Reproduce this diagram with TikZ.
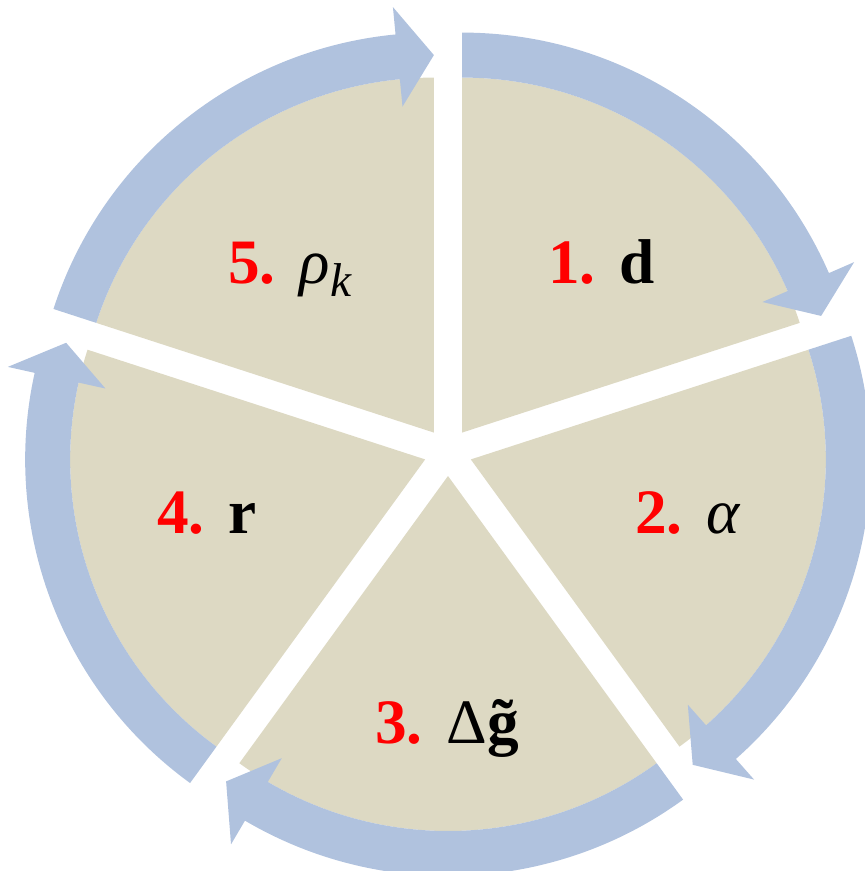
\documentclass[tikz,border=0pt]{standalone}
\usepackage{fontspec}
\setmainfont{Liberation Serif}
\definecolor{cyclebeige}{RGB}{221,217,195}
\definecolor{cycleblue}{RGB}{176,194,222}
\definecolor{cyclered}{RGB}{255,0,0}
\usetikzlibrary{positioning}

\begin{document}
\begin{tikzpicture}[
    wedge/.style={fill=cyclebeige},
    cyclearrow/.style={fill=cycleblue},
    steplabel/.style={anchor=base west,inner sep=0pt,font=\fontsize{36}{40}\selectfont}]
  \useasboundingbox (-89.6mm,-83.8mm) rectangle (83.4mm,90.4mm);
  % 1: top right
  \begin{scope}[shift={(54:4.8mm)}]
    \fill[wedge] (0,0) -- (90:71mm) arc[start angle=90,end angle=18,radius=71mm] -- cycle;
    \fill[cyclearrow] (90:71mm) -- (90:80mm) arc[start angle=90,end angle=23.5,radius=80mm]
      -- (23.5:85.5mm) -- (18:75.5mm) -- (23.5:65.5mm) -- (23.5:71mm)
      arc[start angle=23.5,end angle=90,radius=71mm] -- cycle;
  \end{scope}
  % 2: right
  \begin{scope}[shift={(-18:4.8mm)}]
    \fill[wedge] (0,0) -- (18:71mm) arc[start angle=18,end angle=-54,radius=71mm] -- cycle;
    \fill[cyclearrow] (18:71mm) -- (18:80mm) arc[start angle=18,end angle=-48.5,radius=80mm]
      -- (-48.5:85.5mm) -- (-54:75.5mm) -- (-48.5:65.5mm) -- (-48.5:71mm)
      arc[start angle=-48.5,end angle=18,radius=71mm] -- cycle;
  \end{scope}
  % 3: bottom
  \begin{scope}[shift={(-90:4.8mm)}]
    \fill[wedge] (0,0) -- (-54:71mm) arc[start angle=-54,end angle=-126,radius=71mm] -- cycle;
    \fill[cyclearrow] (-54:71mm) -- (-54:80mm) arc[start angle=-54,end angle=-120.5,radius=80mm]
      -- (-120.5:85.5mm) -- (-126:75.5mm) -- (-120.5:65.5mm) -- (-120.5:71mm)
      arc[start angle=-120.5,end angle=-54,radius=71mm] -- cycle;
  \end{scope}
  % 4: left
  \begin{scope}[shift={(198:4.8mm)}]
    \fill[wedge] (0,0) -- (234:71mm) arc[start angle=234,end angle=162,radius=71mm] -- cycle;
    \fill[cyclearrow] (234:71mm) -- (234:80mm) arc[start angle=234,end angle=167.5,radius=80mm]
      -- (167.5:85.5mm) -- (162:75.5mm) -- (167.5:65.5mm) -- (167.5:71mm)
      arc[start angle=167.5,end angle=234,radius=71mm] -- cycle;
  \end{scope}
  % 5: top left
  \begin{scope}[shift={(126:4.8mm)}]
    \fill[wedge] (0,0) -- (162:71mm) arc[start angle=162,end angle=90,radius=71mm] -- cycle;
    \fill[cyclearrow] (162:71mm) -- (162:80mm) arc[start angle=162,end angle=95.5,radius=80mm]
      -- (95.5:85.5mm) -- (90:75.5mm) -- (95.5:65.5mm) -- (95.5:71mm)
      arc[start angle=95.5,end angle=162,radius=71mm] -- cycle;
  \end{scope}
  % step labels
  \node[steplabel] (l1) at (20mm,33.8mm) {\textbf{\color{cyclered}1.}\hspace{0.38em}\textbf{d}};
  \node[steplabel] (l2) at (37.4mm,-16.2mm) {\textbf{\color{cyclered}2.}\hspace{0.38em}\textit{α}};
  \node[steplabel] (l3) at (-14.6mm,-58.2mm) {\textbf{\color{cyclered}3.}\hspace{0.38em}Δ\textbf{\~{g}}};
  \node[steplabel] (l4) at (-58.2mm,-16.2mm) {\textbf{\color{cyclered}4.}\hspace{0.38em}\textbf{r}};
  \node[steplabel] (l5) at (-44mm,33.8mm) {\textbf{\color{cyclered}5.}\hspace{0.38em}\textit{ρ}\raisebox{-0.22em}{\fontsize{27}{30}\selectfont\textit{k}}};
\end{tikzpicture}
\end{document}
